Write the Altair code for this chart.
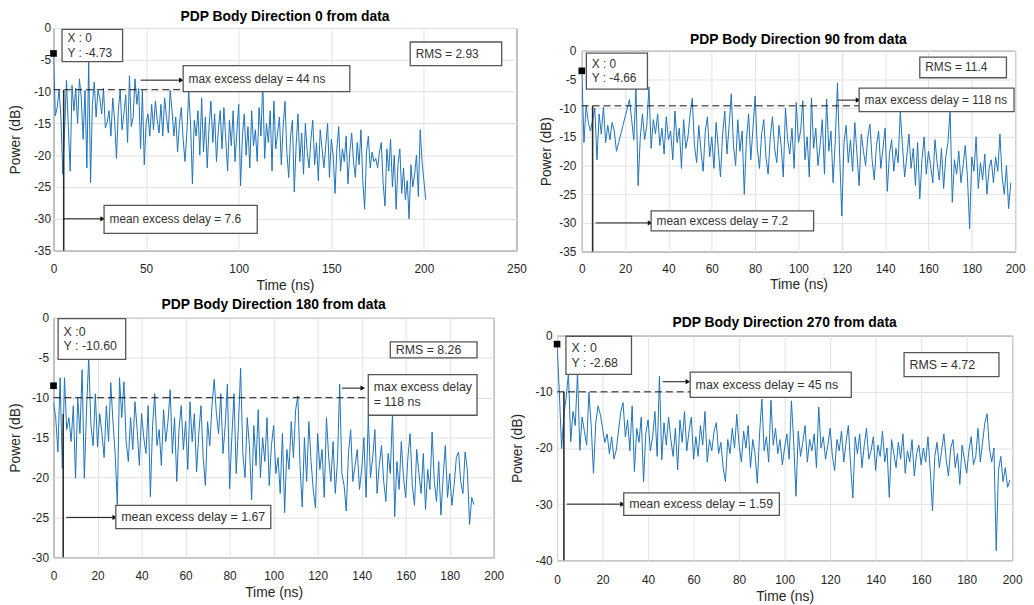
import altair as alt
import pandas as pd

BLUE = "#1f72b8"
FONT = "Liberation Sans"

# ---------------- series (power in dB, one sample per ns) ----------------
p1_power_db = [
    -4.0, -13.8, -12.5, -9.7, -14.0, -23.0, -16.0, -8.2, -15.5, -22.5,
    -9.0, -13.0, -9.5, -15.0, -8.0, -11.0, -17.5, -9.8, -22.0, -5.3,
    -24.3, -12.0, -8.5, -14.0, -9.8, -11.0, -13.5, -9.5, -15.7, -14.8,
    -13.0, -17.0, -11.0, -14.5, -20.5, -13.0, -9.7, -16.0, -13.5, -10.5,
    -18.0, -7.5, -15.5, -14.0, -8.0, -12.0, -9.5, -19.0, -9.8, -21.5,
    -15.0, -13.5, -17.0, -12.0, -16.0, -11.5, -14.5, -16.5, -12.0, -17.0,
    -11.0, -14.0, -16.5, -9.8, -13.0, -17.0, -14.0, -19.5, -15.0, -12.5,
    -17.5, -21.0, -16.5, -10.0, -15.0, -24.5, -14.5, -17.0, -13.0, -20.0,
    -11.0, -19.5, -14.0, -22.0, -15.5, -11.5, -18.0, -13.5, -21.0, -16.0,
    -13.0, -19.0, -12.5, -17.5, -22.5, -14.5, -18.5, -13.0, -21.0, -16.5,
    -12.0, -24.8, -17.0, -13.5, -20.0, -15.5, -22.0, -13.0, -18.5, -16.0,
    -21.0, -12.5, -17.0, -8.5, -20.5, -15.0, -18.0, -13.0, -22.5, -11.5,
    -19.0, -16.5, -14.0, -21.5, -15.5, -11.5, -19.5, -23.5, -17.0, -14.5,
    -25.8, -18.5, -13.5, -21.0, -16.5, -23.0, -15.0, -19.5, -22.0, -17.5,
    -14.5, -21.5, -18.0, -24.0, -16.0, -19.0, -22.0, -18.5, -15.0, -23.5,
    -17.5, -20.0, -26.0, -19.0, -15.5, -22.5, -19.0, -21.0, -17.0, -24.5,
    -19.5, -16.5, -21.0, -23.5, -18.0, -21.5, -16.0, -24.0, -28.5, -19.5,
    -17.0, -22.0, -19.5, -21.0, -20.5, -22.0, -19.5, -18.0, -24.5, -28.0,
    -19.0, -22.5, -17.5, -25.0, -20.0, -28.5, -21.5, -19.0, -26.0, -22.0,
    -27.0, -24.0, -30.0, -21.5, -25.0, -23.0, -20.0, -26.5, -16.0, -21.0,
    -24.0, -27.0,
]

p2_power_db = [
    -3.5, -16.0, -9.5, -12.5, -14.0, -12.0, -10.0, -19.0, -11.0, -14.5,
    -9.8, -16.0, -13.0, -15.5, -12.5, -14.0, -17.5, -16.0, -14.5, -13.0,
    -11.5, -10.0, -8.5, -12.0, -15.5, -6.5, -23.5, -15.0, -11.0, -15.5,
    -13.0, -6.3, -17.0, -12.0, -14.5, -11.0, -16.5, -13.5, -18.0, -11.5,
    -15.5, -14.0, -19.0, -10.5, -16.0, -13.5, -20.5, -12.0, -17.0, -15.0,
    -11.0, -8.3, -16.5, -19.5, -13.0, -17.5, -21.0, -14.0, -11.5, -18.5,
    -15.0, -20.5, -12.5, -17.0, -22.0, -14.5, -10.5, -18.0, -13.0, -7.5,
    -16.5, -20.0, -12.0, -17.5, -14.0, -25.0, -15.5, -11.0, -19.0, -13.5,
    -7.9, -17.0, -20.5, -14.5, -12.0, -18.5, -21.5, -15.0, -11.5, -17.0,
    -19.5, -13.0, -16.5, -22.0, -10.0, -15.5, -18.0, -13.5, -20.5, -9.0,
    -16.0, -14.0, -8.7, -19.0, -15.0, -22.0, -8.2, -17.0, -13.5, -20.0,
    -16.5, -12.0, -21.5, -8.4, -17.5, -14.0, -23.0, -15.5, -5.6, -18.0,
    -28.8, -16.0, -13.0, -19.5, -15.5, -21.0, -12.5, -18.0, -23.5, -14.5,
    -17.5, -20.0, -15.0, -12.8, -19.0, -22.5, -16.5, -14.0, -20.5, -17.0,
    -13.5, -24.5, -18.0, -15.5, -21.0, -17.0, -19.5, -10.6, -16.5, -22.0,
    -18.5, -14.5, -20.5, -17.0, -23.5, -16.0, -25.8, -19.0, -15.0, -21.5,
    -17.5, -20.0, -23.0, -15.5, -19.5, -22.5, -17.0, -24.0, -18.5, -16.0,
    -10.3, -26.4, -19.0, -21.5, -17.5, -23.0, -20.0, -16.5, -22.0, -31.0,
    -18.5, -21.0, -15.0, -24.0, -19.5, -22.5, -18.0, -25.0, -20.5, -19.0,
    -23.0, -18.5, -21.0, -14.5, -22.0, -25.0, -20.0, -27.5, -23.0,
]

p3_power_db = [
    -10.6, -12.5, -16.8, -7.5, -18.9, -7.5, -14.0, -12.5, -15.5, -11.0,
    -20.1, -10.0, -14.5, -6.5, -20.1, -11.5, -5.0, -13.5, -16.0, -9.5,
    -16.2, -12.0, -14.5, -17.5, -11.0, -15.5, -8.1, -13.0, -17.0, -23.4,
    -7.5, -12.5, -8.0, -15.5, -18.0, -12.5, -16.5, -10.5, -14.0, -18.5,
    -12.0, -15.0, -17.0, -11.0, -22.4, -13.5, -9.5, -16.0, -14.0, -18.5,
    -11.5, -15.5, -13.0, -9.0, -17.0, -12.5, -20.5, -14.0, -11.0, -16.5,
    -13.0, -19.0, -10.5, -15.5, -12.0, -19.3, -14.5, -11.0, -17.5, -21.0,
    -13.0, -16.0, -11.0, -7.7, -12.0, -14.5, -9.5, -17.0, -13.5, -8.3,
    -21.4, -15.0, -9.5, -19.5, -13.5, -6.3, -17.0, -20.0, -12.5, -16.0,
    -22.8, -13.5, -18.5, -11.5, -20.0, -15.0, -18.0, -12.5, -21.0, -16.0,
    -13.5, -19.5, -17.5, -22.0, -14.5, -24.4, -16.5, -19.0, -13.0, -17.5,
    -11.5, -9.8, -18.5, -23.7, -15.0, -20.5, -13.0, -18.0, -21.5, -23.8,
    -14.5, -19.0, -16.5, -22.5, -12.5, -17.5, -20.5, -15.5, -22.0, -18.0,
    -8.3, -19.5, -21.0, -24.2, -17.0, -14.0, -20.5, -18.5, -16.5, -21.5,
    -19.0, -15.0, -22.5, -12.3, -20.0, -17.5, -14.0, -22.0, -18.5, -16.0,
    -20.5, -23.0, -17.0, -19.5, -11.9, -24.9, -18.0, -21.5, -15.5, -20.0,
    -22.5, -17.5, -14.5, -21.0, -23.5, -16.5, -19.5, -22.0, -17.0, -24.0,
    -19.0, -21.5, -14.3, -20.5, -23.0, -18.0, -24.7, -20.0, -16.0, -22.5,
    -19.5, -23.5, -21.0, -17.5, -16.8, -20.5, -22.0, -16.8, -19.0, -25.9,
    -22.5, -23.4,
]

p4_power_db = [
    -1.6, -10.1, -20.1, -14.0, -11.0, -6.6, -18.9, -13.5, -16.0, -6.3,
    -20.4, -14.5, -17.0, -19.5, -10.1, -16.0, -24.5, -15.5, -12.5, -14.0,
    -16.5, -19.0, -17.5, -21.0, -18.0, -22.0, -20.4, -17.0, -13.5, -11.9,
    -18.0, -15.0, -20.5, -12.5, -24.2, -16.5, -19.0, -14.5, -26.0, -17.5,
    -15.0, -20.5, -18.0, -13.5, -21.5, -7.2, -22.1, -15.5, -19.5, -14.5,
    -18.5, -21.5, -16.5, -23.9, -15.0, -19.0, -13.5, -20.5, -17.0, -14.5,
    -22.0, -18.0, -21.5, -16.0, -19.5, -13.5, -22.5, -18.5, -20.5, -17.0,
    -15.5, -21.0, -19.0, -23.5, -26.0, -18.5, -21.0, -16.5, -20.0, -14.0,
    -19.5, -22.5, -17.0, -20.0, -16.0, -23.5, -18.5, -21.0, -26.3, -17.5,
    -11.3, -20.5, -18.0, -22.5, -11.5, -19.5, -16.5, -21.0, -18.5, -23.0,
    -20.0, -17.5, -22.0, -11.6, -19.0, -28.6, -17.0, -21.5, -19.0, -16.0,
    -22.5, -18.5, -20.5, -17.5, -23.5, -12.7, -20.0, -18.0, -22.0, -19.5,
    -16.5, -21.5, -24.0, -18.5, -20.5, -17.0, -22.5, -19.0, -16.0, -23.0,
    -28.9, -18.0, -21.0, -17.5, -23.5, -19.5, -16.5, -22.0, -20.5, -18.0,
    -24.0, -19.5, -21.5, -17.0, -22.5, -20.0, -28.8, -18.5, -21.0, -23.5,
    -19.0, -22.0, -17.5, -24.5, -20.5, -22.5, -18.5, -25.0, -21.0, -19.5,
    -23.0, -20.0, -22.5, -18.0, -24.0, -31.2, -21.5, -19.0, -23.5, -20.5,
    -17.5, -22.0, -25.0, -20.0, -18.5, -23.5, -21.0, -26.5, -19.5, -22.0,
    -24.5, -20.5, -18.0, -23.0, -21.5, -16.5, -22.5, -19.0, -15.5, -13.9,
    -20.0, -22.5, -20.0, -38.3, -24.0, -21.5, -26.0, -23.5, -27.0, -25.7,
]

p1_time_ns = list(range(len(p1_power_db)))
p2_time_ns = list(range(len(p2_power_db)))
p3_time_ns = list(range(len(p3_power_db)))
p4_time_ns = list(range(len(p4_power_db)))

# tick labels
p1_xticks = [0, 50, 100, 150, 200, 250]
p1_yticks = [0, -5, -10, -15, -20, -25, -30, -35]
p2_xticks = [0, 20, 40, 60, 80, 100, 120, 140, 160, 180, 200]
p2_yticks = [0, -5, -10, -15, -20, -25, -30, -35]
p3_xticks = [0, 20, 40, 60, 80, 100, 120, 140, 160, 180, 200]
p3_yticks = [0, -5, -10, -15, -20, -25, -30]
p4_xticks = [0, 20, 40, 60, 80, 100, 120, 140, 160, 180, 200]
p4_yticks = [0, -10, -20, -30, -40]

# annotation boxes: [x_left, x_right, y_top, y_bottom, text lines]
p1_boxes = [
    [4.6, 37.3, -0.2, -5.3, ["X : 0", "Y :  -4.73"]],
    [192.6, 242.0, -2.2, -5.9, ["RMS = 2.93"]],
    [70.0, 160.0, -5.9, -10.0, ["max excess delay  = 44 ns"]],
    [27.3, 110.0, -27.9, -32.3, ["mean excess delay  = 7.6"]],
]
p2_boxes = [
    [2.1, 30.3, -0.4, -6.7, ["X : 0", "Y : -4.66"]],
    [156.0, 196.0, -1.1, -4.7, ["RMS = 11.4"]],
    [128.0, 199.5, -6.5, -10.6, ["max excess delay  = 118 ns"]],
    [32.0, 107.0, -27.9, -31.4, ["mean excess delay  =  7.2"]],
]
p3_boxes = [
    [2.1, 32.8, -0.1, -5.2, ["X :0", "Y : -10.60"]],
    [153.0, 192.4, -3.0, -5.0, ["RMS = 8.26"]],
    [143.0, 192.4, -7.1, -12.2, ["max excess delay", "= 118 ns"]],
    [28.3, 98.7, -23.5, -26.4, ["mean excess delay  = 1.67"]],
]
p4_boxes = [
    [3.9, 32.7, -0.1, -6.9, ["X : 0", "Y : -2.68"]],
    [152.5, 194.2, -3.0, -7.3, ["RMS = 4.72"]],
    [58.5, 129.3, -6.5, -11.0, ["max excess delay  = 45 ns"]],
    [29.3, 97.7, -28.0, -32.0, ["mean excess delay  = 1.59"]],
]

# arrows: [x_start, x_end, y]
p1_arrows = [[47.0, 69.0, -8.2], [5.5, 26.5, -30.0]]
p2_arrows = [[118.0, 127.5, -8.6], [6.4, 31.5, -30.0]]
p3_arrows = [[131.0, 140.5, -8.8], [5.8, 27.8, -25.0]]
p4_arrows = [[46.5, 57.5, -8.2], [4.3, 28.8, -30.0]]

# threshold dashed line: [y, x_end]; delay marker line: [x, y_top]; data tip marker y
p1_dash, p1_vline, p1_tip = [-9.7, 70.0], [5.5, -9.7], -4.0
p2_dash, p2_vline, p2_tip = [-9.6, 128.0], [5.0, -9.6], -3.5
p3_dash, p3_vline, p3_tip = [-10.0, 143.0], [4.4, -12.0], -8.5
p4_dash, p4_vline, p4_tip = [-10.0, 58.5], [3.0, -10.0], -1.5

panels = [
    dict(title="PDP Body Direction 0 from data", toff=-2, gap=0,
         t=p1_time_ns, p=p1_power_db, xmax=250, ymin=-35, xt=p1_xticks, yt=p1_yticks,
         ytitle="Power (dB)", w=468, h=225, xlp=12.7, xtp=4.8, ylp=3, ytp=10.7,
         boxes=p1_boxes, arrows=p1_arrows, dash=p1_dash, vline=p1_vline, tip=p1_tip, fs=12),
    dict(title="PDP Body Direction 90 from data", toff=-2, gap=23,
         t=p2_time_ns, p=p2_power_db, xmax=200, ymin=-35, xt=p2_xticks, yt=p2_yticks,
         ytitle="Power (dB)", w=438, h=203, xlp=12.5, xtp=2.3, ylp=6, ytp=5,
         boxes=p2_boxes, arrows=p2_arrows, dash=p2_dash, vline=p2_vline, tip=p2_tip, fs=12),
    dict(title="PDP Body Direction 180 from data", toff=0, gap=0,
         t=p3_time_ns, p=p3_power_db, xmax=200, ymin=-30, xt=p3_xticks, yt=p3_yticks,
         ytitle="Power  (dB)", w=445, h=242, xlp=13, xtp=5, ylp=5, ytp=9,
         boxes=p3_boxes, arrows=p3_arrows, dash=p3_dash, vline=p3_vline, tip=p3_tip, fs=12.5),
    dict(title="PDP Body Direction 270 from data", toff=0, gap=18,
         t=p4_time_ns, p=p4_power_db, xmax=200, ymin=-40, xt=p4_xticks, yt=p4_yticks,
         ytitle="Power (dB)", w=460, h=227, xlp=14, xtp=4.5, ylp=5, ytp=10.2,
         boxes=p4_boxes, arrows=p4_arrows, dash=p4_dash, vline=p4_vline, tip=p4_tip, fs=12.5),
]


def spacer():
    empty = pd.DataFrame({"t": pd.Series([], dtype=float)})
    return alt.Chart(empty).mark_point(opacity=0).encode(
        x=alt.X("t:Q", axis=None), y=alt.Y("t:Q", axis=None)
    ).properties(width=1, height=1, view=alt.ViewBackground(stroke="transparent"))


def build(s):
    xs = alt.Scale(domain=[0, s["xmax"]], nice=False, zero=False)
    ys = alt.Scale(domain=[s["ymin"], 0], nice=False, zero=False)
    xax = alt.Axis(values=s["xt"], title="Time (ns)", labelExpr="toString(datum.value)",
                   labelFlush=False, labelPadding=s["xlp"], titlePadding=s["xtp"],
                   ticks=False, domain=False, grid=True)
    yax = alt.Axis(values=s["yt"], title=s["ytitle"], labelExpr="toString(datum.value)",
                   labelFlush=False, labelPadding=s["ylp"], titlePadding=s["ytp"],
                   ticks=False, domain=False, grid=True)
    X = alt.X("t:Q", scale=xs, axis=xax)
    Y = alt.Y("p:Q", scale=ys, axis=yax)
    inset = 5.5 * s["xmax"] / s["w"]
    dy = s["fs"] * 1.2 * (-s["ymin"]) / s["h"]

    line = alt.Chart(pd.DataFrame({"t": s["t"], "p": s["p"]})).mark_line(
        color=BLUE, strokeWidth=1, clip=True).encode(x=X, y=Y)

    vl = alt.Chart(pd.DataFrame({"t": [s["vline"][0]], "p": [s["ymin"]], "p2": [s["vline"][1]]})).mark_rule(
        color="#2b2b2b", strokeWidth=1.6).encode(x=X, y=Y, y2=alt.Y2("p2"))

    dash = alt.Chart(pd.DataFrame({"t": [0], "t2": [s["dash"][1]], "p": [s["dash"][0]]})).mark_rule(
        color="#111111", strokeWidth=1, strokeDash=[7, 4]).encode(x=X, x2=alt.X2("t2"), y=Y)

    adf = pd.DataFrame({"t": [a[0] for a in s["arrows"]], "t2": [a[1] for a in s["arrows"]],
                        "p": [a[2] for a in s["arrows"]]})
    arr = alt.Chart(adf).mark_rule(color="#111111", strokeWidth=1).encode(x=X, x2=alt.X2("t2"), y=Y)
    hdf = pd.DataFrame({"t": [a[1] for a in s["arrows"]], "p": [a[2] for a in s["arrows"]]})
    heads = alt.Chart(hdf).mark_point(shape="triangle-right", filled=True, size=28,
                                      color="#111111", opacity=1).encode(x=X, y=Y)

    bdf = pd.DataFrame({"t": [b[0] for b in s["boxes"]], "t2": [b[1] for b in s["boxes"]],
                        "p": [b[2] for b in s["boxes"]], "p2": [b[3] for b in s["boxes"]]})
    rect = alt.Chart(bdf).mark_rect(fill="white", stroke="#555555", strokeWidth=1.3).encode(
        x=X, x2=alt.X2("t2"), y=Y, y2=alt.Y2("p2"))
    rows = []
    for b in s["boxes"]:
        mid = (b[2] + b[3]) / 2
        n = len(b[4])
        for i, txt in enumerate(b[4]):
            rows.append({"t": b[0] + inset, "p": mid + dy * ((n - 1) / 2 - i), "label": txt})
    txt = alt.Chart(pd.DataFrame(rows)).mark_text(
        align="left", baseline="middle", fontSize=s["fs"], font=FONT, color="#333333"
    ).encode(x=X, y=Y, text="label:N")

    mk = alt.Chart(pd.DataFrame({"t": [0], "p": [s["tip"]]})).mark_point(
        shape="square", filled=True, size=45, color="black", opacity=1).encode(x=X, y=Y)

    panel = alt.layer(line, vl, dash, arr, heads, rect, txt, mk).properties(
        width=s["w"], height=s["h"],
        title=alt.TitleParams(text=s["title"], offset=s["toff"], fontSize=14, fontWeight="bold",
                              font=FONT, color="#000000", anchor="middle", frame="group"))
    return alt.vconcat(spacer(), panel, spacing=s["gap"])


c1, c2, c3, c4 = [build(s) for s in panels]
row1 = alt.hconcat(c1, c2, spacing=12)
row2 = alt.hconcat(c3, c4, spacing=5)

chart = alt.vconcat(row1, row2, spacing=1).properties(
    padding={"left": 0, "top": -5, "right": 0, "bottom": 0}
).configure(background="white").configure_view(
    stroke="#444444", strokeWidth=1
).configure_axis(
    labelFont=FONT, labelFontSize=12, labelColor="#262626",
    titleFont=FONT, titleFontSize=14, titleFontWeight="normal", titleColor="#262626",
    gridColor="#e2e2e2", gridWidth=1
)

chart.save("out.html", embed_options={"renderer": "svg", "actions": False})
